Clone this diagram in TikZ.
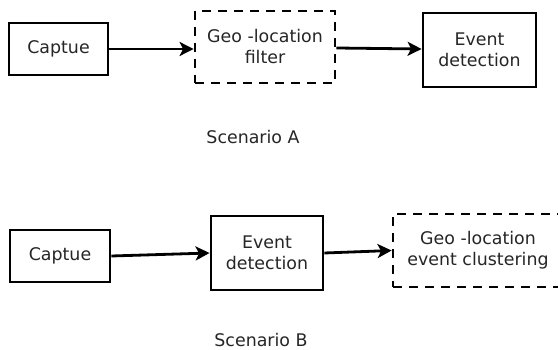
\documentclass[tikz,border=0pt]{standalone}
\usepackage{fontspec}
\setmainfont{DejaVu Sans}
\usetikzlibrary{arrows.meta}
\begin{document}
\begin{tikzpicture}[x=1pt,y=-1pt,
  every node/.style={font=\fontsize{17.4}{21}\selectfont, text=black!85, align=center, inner sep=0pt},
  solidbox/.style={draw=black, line width=2.8pt, rectangle},
  dashbox/.style={draw=black, line width=2.8pt, rectangle, dash pattern=on 9pt off 7pt},
  conn/.style={line width=2.8pt, -{Stealth[length=14pt,width=14pt,inset=3.5pt]}},
  lbl/.style={}]
\useasboundingbox (0,0) rectangle (558,350);
\clip (0,0) rectangle (558,350);
\fill[white] (0,0) rectangle (558,350);
% Scenario A
\node[solidbox, minimum width=99pt, minimum height=52pt] (capA) at (58.5,49) {Captue};
\node[dashbox, minimum width=140pt, minimum height=72pt] (geoA) at (265,47) {Geo -location\\filter};
\node[solidbox, minimum width=113pt, minimum height=74pt] (evA) at (479.5,50) {Event\\detection};
\node[lbl] (scA) at (253,137) {Scenario A};
\draw[conn] (capA.east) -- (geoA.west |- capA.east);
\draw[conn] ([yshift=-1pt]geoA.east) -- ([yshift=1pt]evA.west);
% Scenario B
\node[solidbox, minimum width=100pt, minimum height=52pt] (capB) at (60,256) {Captue};
\node[solidbox, minimum width=112pt, minimum height=74pt] (evB) at (267,253) {Event\\detection};
\node[dashbox, minimum width=170pt, minimum height=73pt] (geoB) at (478,250.5) {Geo -location\\event clustering};
\node[lbl] (scB) at (261,340) {Scenario B};
\draw[conn] (capB.east) -- (evB.west);
\draw[conn] (evB.east) -- (geoB.west);
\end{tikzpicture}
\end{document}
